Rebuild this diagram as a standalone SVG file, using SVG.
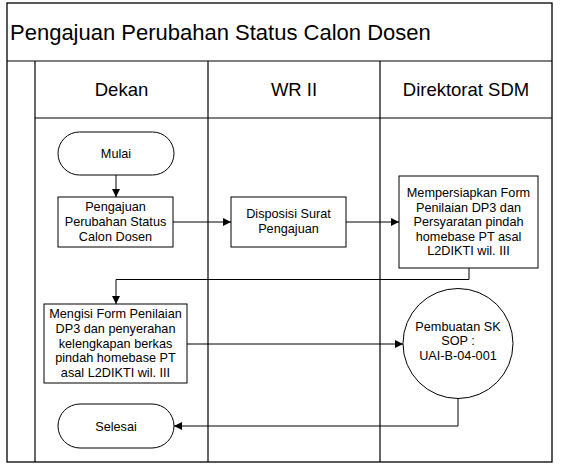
<svg xmlns="http://www.w3.org/2000/svg" width="561" height="467" viewBox="0 0 561 467">
<defs>
<marker id="arr" viewBox="0 0 10 10" refX="10" refY="5" markerWidth="8" markerHeight="8" markerUnits="userSpaceOnUse" orient="auto">
<path d="M0,0 L10,5 L0,10 Z" fill="#000"/>
</marker>
<style>
.frame{fill:#fff;stroke:#000;stroke-width:1.3}
.ln{fill:none;stroke:#000;stroke-width:1.2}
.box{fill:#fff;stroke:#000;stroke-width:1}
.con{fill:none;stroke:#000;stroke-width:1;marker-end:url(#arr)}
.con2{fill:none;stroke:#000;stroke-width:1}
text{font-family:"Liberation Sans",Arial,sans-serif;fill:#000}
.t{font-size:12.7px;text-anchor:middle}
.h{font-size:18.5px;text-anchor:middle}
.title{font-size:22px}
</style>
</defs>
<rect width="561" height="467" fill="#fff"/>
<g id="pool">
<rect class="frame" x="7" y="3" width="545" height="459"/>
<line class="ln" x1="7" y1="61" x2="552" y2="61"/>
<line class="ln" x1="35" y1="61" x2="35" y2="462"/>
<line class="ln" x1="208" y1="61" x2="208" y2="462"/>
<line class="ln" x1="380" y1="61" x2="380" y2="462"/>
<line class="ln" x1="35" y1="118" x2="552" y2="118"/>
<text class="title" x="10" y="40">Pengajuan Perubahan Status Calon Dosen</text>
<text class="h" x="121.5" y="96">Dekan</text>
<text class="h" x="294" y="96">WR II</text>
<text class="h" x="466" y="96">Direktorat SDM</text>
</g>
<g id="connectors">
<path class="con" d="M116,175 V197"/>
<path class="con" d="M173,222 H231"/>
<path class="con" d="M346,222 H399"/>
<path class="con" d="M469,268 V279.5 H116 V304"/>
<path class="con" d="M187,344 H403"/>
<path class="con" d="M458,398.5 V426 H174"/>
</g>
<g id="mulai">
<rect class="box" x="58" y="132" width="116" height="43" rx="21.5"/>
<text class="t" x="116" y="158">Mulai</text>
</g>
<g id="pengajuan">
<rect class="box" x="58" y="197" width="115" height="50"/>
<text class="t" x="115.5" y="211">Pengajuan</text>
<text class="t" x="115.5" y="226">Perubahan Status</text>
<text class="t" x="115.5" y="241">Calon Dosen</text>
</g>
<g id="disposisi">
<rect class="box" x="231" y="197" width="115" height="50"/>
<text class="t" x="288.5" y="218">Disposisi Surat</text>
<text class="t" x="288.5" y="233">Pengajuan</text>
</g>
<g id="mempersiapkan">
<rect class="box" x="399" y="176" width="139" height="92"/>
<text class="t" x="468.5" y="197">Mempersiapkan Form</text>
<text class="t" x="468.5" y="211.5">Penilaian DP3 dan</text>
<text class="t" x="468.5" y="226">Persyaratan pindah</text>
<text class="t" x="468.5" y="240.5">homebase PT asal</text>
<text class="t" x="468.5" y="255">L2DIKTI wil. III</text>
</g>
<g id="mengisi">
<rect class="box" x="44" y="304" width="143" height="79"/>
<text class="t" x="115.5" y="318">Mengisi Form Penilaian</text>
<text class="t" x="115.5" y="332.8">DP3 dan penyerahan</text>
<text class="t" x="115.5" y="347.5">kelengkapan berkas</text>
<text class="t" x="115.5" y="362.3">pindah homebase PT</text>
<text class="t" x="115.5" y="377">asal L2DIKTI wil. III</text>
</g>
<g id="pembuatan-sk">
<circle class="box" cx="458" cy="343.5" r="55"/>
<text class="t" x="458" y="330.5">Pembuatan SK</text>
<text class="t" x="458" y="345">SOP :</text>
<text class="t" x="458" y="359.5">UAI-B-04-001</text>
</g>
<g id="selesai">
<rect class="box" x="58" y="404" width="116" height="44" rx="22"/>
<text class="t" x="116" y="430.5">Selesai</text>
</g>
</svg>
